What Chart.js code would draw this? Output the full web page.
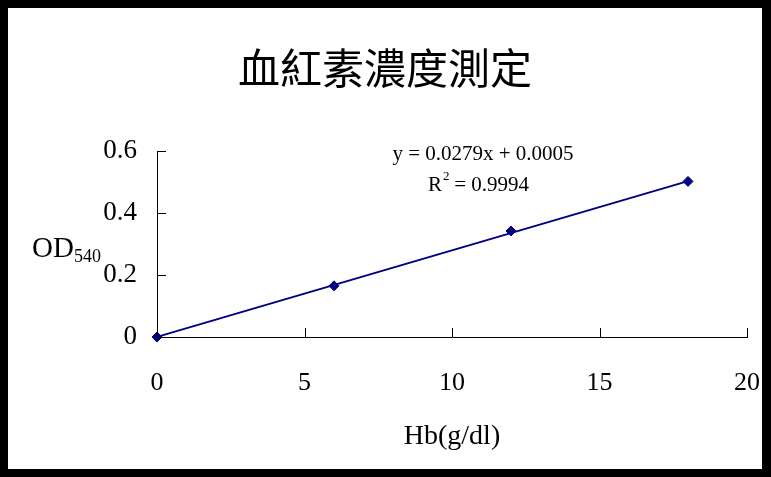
<!DOCTYPE html>
<html>
<head>
<meta charset="utf-8">
<script src="https://cdn.jsdelivr.net/npm/chart.js@4"></script>
<style>
  html, body { margin: 0; padding: 0; background: #000; }
  body { width: 771px; height: 477px; position: relative; overflow: hidden; }
  #box { position: absolute; left: 8px; top: 8px; width: 754px; height: 461px; background: #fff; }
</style>
</head>
<body>
<div id="box"><canvas id="hbChart"></canvas></div>
<script>
// Hb standard curve data
const hbValues = [0, 6, 12, 18];
const odValues = [0, 0.165, 0.342, 0.502];
// trendline end points (y = 0.0279x + 0.0005)
const trendX = [0, 18];
const trendY = [0.0005, 0.5027];
const xTicks = [0, 5, 10, 15, 20];
const yTicks = [0, 0.2, 0.4, 0.6];
const yTickLabels = ['0', '0.2', '0.4', '0.6'];

const NAVY = '#000080';
const SERIF = '"Liberation Serif", "Times New Roman", serif';

// titles, equation and inward tick marks
const extras = {
  id: 'extras',
  afterDraw(chart) {
    const ctx = chart.ctx;
    const xs = chart.scales.x, ys = chart.scales.y;
    ctx.save();
    ctx.fillStyle = '#000';
    ctx.strokeStyle = '#000';
    ctx.lineWidth = 1;

    // tick marks pointing into the plot
    ctx.beginPath();
    yTicks.forEach(v => {
      const py = Math.round(ys.getPixelForValue(v)) + 0.5;
      ctx.moveTo(xs.left, py);
      ctx.lineTo(xs.left + 9, py);
    });
    xTicks.forEach(v => {
      const px = Math.round(xs.getPixelForValue(v)) + 0.5;
      ctx.moveTo(px, ys.bottom);
      ctx.lineTo(px, ys.bottom - 9);
    });
    ctx.stroke();

    // chart title
    ctx.textAlign = 'center';
    ctx.textBaseline = 'middle';
    ctx.font = '42px "Noto Sans CJK TC"';
    ctx.fillText('血紅素濃度測定', 377, 60);

    // x axis title
    ctx.font = '28px ' + SERIF;
    ctx.fillText('Hb(g/dl)', 444, 429);

    // y axis title with subscript
    ctx.textAlign = 'left';
    ctx.textBaseline = 'alphabetic';
    ctx.font = '29px ' + SERIF;
    ctx.fillText('OD', 24, 249);
    const odW = ctx.measureText('OD').width;
    ctx.font = '18px ' + SERIF;
    ctx.fillText('540', 24 + odW, 254);

    // trendline equation
    ctx.textAlign = 'center';
    ctx.font = '21px ' + SERIF;
    ctx.fillText('y = 0.0279x + 0.0005', 475, 152);
    ctx.textAlign = 'left';
    const rx = 420;
    ctx.fillText('R', rx, 183);
    const rW = ctx.measureText('R').width;
    ctx.font = '13px ' + SERIF;
    ctx.fillText('2', rx + rW + 1, 172);
    ctx.font = '21px ' + SERIF;
    ctx.fillText(' = 0.9994', rx + rW + 7, 183);
    ctx.restore();
  }
};

const ctx = document.getElementById('hbChart').getContext('2d');
const hbChart = new Chart(ctx, {
  type: 'scatter',
  data: {
    datasets: [{
      label: 'trend',
      data: trendX.map((x, i) => ({ x: x, y: trendY[i] })),
      showLine: true,
      borderColor: NAVY,
      borderWidth: 2,
      pointRadius: 0,
      clip: false
    }, {
      label: 'OD540',
      data: hbValues.map((x, i) => ({ x: x, y: odValues[i] })),
      showLine: false,
      pointStyle: 'rectRot',
      pointRadius: 5,
      backgroundColor: NAVY,
      borderColor: NAVY,
      borderWidth: 1,
      clip: false
    }]
  },
  options: {
    responsive: true,
    maintainAspectRatio: false,
    animation: false,
    layout: { padding: { top: 143, right: 15, left: 0, bottom: 0 } },
    plugins: {
      legend: { display: false },
      tooltip: { enabled: false }
    },
    scales: {
      x: {
        type: 'linear',
        min: 0,
        max: 20,
        afterBuildTicks: axis => { axis.ticks = xTicks.map(v => ({ value: v })); },
        afterFit: axis => {
          axis.height = 132;
          axis.paddingLeft = 0;
          axis.paddingRight = 0;
        },
        grid: { drawOnChartArea: false, drawTicks: false },
        border: { color: '#000', width: 1 },
        ticks: {
          color: '#000',
          padding: 31,
          maxRotation: 0,
          font: { family: SERIF, size: 26 }
        }
      },
      y: {
        type: 'linear',
        min: 0,
        max: 0.6,
        afterBuildTicks: axis => { axis.ticks = yTicks.map(v => ({ value: v })); },
        afterFit: axis => {
          axis.width = 149;
          axis.paddingTop = 0;
          axis.paddingBottom = 0;
        },
        grid: { drawOnChartArea: false, drawTicks: false },
        border: { color: '#000', width: 1 },
        ticks: {
          color: '#000',
          padding: 20,
          font: { family: SERIF, size: 27 },
          callback: (v, i) => yTickLabels[i]
        }
      }
    }
  },
  plugins: [extras]
});
</script>
</body>
</html>
